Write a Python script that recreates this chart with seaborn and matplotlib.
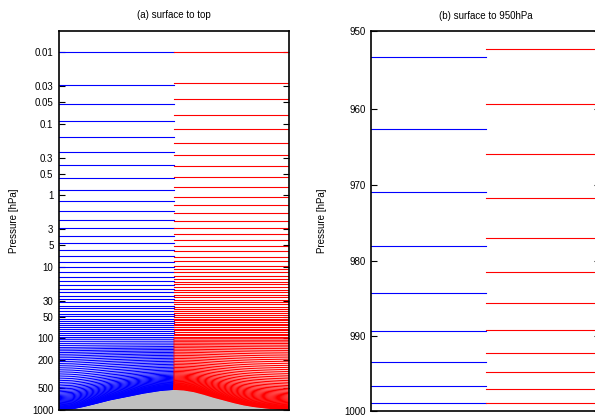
import numpy as np
import pandas as pd
import matplotlib
matplotlib.use("Agg")
import matplotlib.pyplot as plt
from matplotlib.ticker import NullLocator
import seaborn as sns

# ---------------- data (hPa, levels for a 1000 hPa surface) ----------------
blue_levels = [
    0.01, 0.0286, 0.0527, 0.091, 0.152, 0.249, 0.382, 0.581, 0.845, 1.19,
    1.65, 2.22, 2.90, 3.71, 4.70, 5.82, 7.13, 8.57, 10.2,
    11.8, 13.7, 15.8, 17.8, 20.2, 22.7, 25.6, 28.4, 31.3, 34.9, 38.0, 41.4,
    45.2, 49.1, 53.1, 57.1, 61.5, 65.6, 70.0, 74.6, 79.6, 84.9, 90.6, 96.6,
    103.0, 110.0,
    117.5, 125.3, 133.6, 141.1, 149.1, 157.6, 166.7, 176.5, 187.0, 198.3,
    210.5, 223.7, 237.9, 253.2, 269.6, 287.1, 305.7, 325.4, 346.1, 367.7,
    390.1, 413.1, 436.6, 460.4, 484.4, 508.4, 532.4, 556.2, 579.8, 603.1,
    626.1, 648.7, 670.9, 692.7, 714.0, 734.8, 755.0, 774.6, 793.6, 812.0,
    829.7, 846.7, 862.9, 878.3, 892.9, 906.7, 919.7, 931.8, 943.0,
    953.3, 962.6, 970.9, 978.0, 984.2, 989.3, 993.5, 996.7, 999.0,
]
red_levels = [
    0.01, 0.0271, 0.0458, 0.0752, 0.118, 0.185, 0.272, 0.395, 0.557, 0.776,
    1.05, 1.38, 1.79, 2.27, 2.84, 3.52, 4.26, 5.12, 6.08, 7.23, 8.38, 9.75,
    10.8, 11.9, 13.3, 14.7, 16.2, 17.6, 19.1, 20.9, 22.7, 24.8, 26.7, 28.8,
    31.0, 33.4, 36.1, 38.5, 41.0, 43.8, 46.7, 49.8, 53.1, 55.9, 59.0, 62.3,
    65.6, 69.3, 73.2, 77.1, 81.4, 86.0, 90.5, 95.6, 101.0, 106.3,
    111.9, 117.9, 124.4, 131.4, 139.0, 147.2, 156.1, 165.7, 176.1, 187.3,
    199.3, 212.2, 226.0, 240.7, 256.3, 272.8, 290.2, 308.5, 327.6, 347.5,
    368.1, 389.3, 411.0, 433.1, 455.5, 478.1, 500.8, 523.5, 546.2, 568.9,
    591.6, 614.3, 637.0, 659.6, 682.1, 704.4, 726.4, 748.0, 769.1, 789.6,
    809.4, 828.4, 846.0, 862.6, 878.0, 892.2, 905.2, 917.0, 927.6, 937.0,
    945.2,
    952.3, 959.4, 965.9, 971.7, 976.9, 981.5, 985.6, 989.1, 992.2, 994.8,
    997.1, 999.0,
]
terrain_x = [0.0, 0.057, 0.106, 0.149, 0.222, 0.294, 0.367, 0.439, 0.5,
             0.540, 0.584, 0.627, 0.670, 0.714, 0.758, 0.801, 0.845, 0.903,
             0.947, 1.0]
terrain_ps = [1000, 969, 899, 832, 725, 652, 584, 537, 517,
              526, 555, 604, 665, 725, 791, 851, 899, 946,
              972, 1000]

ticks_a = [0.01, 0.03, 0.05, 0.1, 0.3, 0.5, 1, 3, 5, 10, 30, 50, 100, 200, 500, 1000]
tick_labels_a = ["0.01", "0.03", "0.05", "0.1", "0.3", "0.5", "1", "3", "5",
                 "10", "30", "50", "100", "200", "500", "1000"]
ticks_b = [950, 960, 970, 980, 990, 1000]
tick_labels_b = ["950", "960", "970", "980", "990", "1000"]
titles = ["(a) surface to top", "(b) surface to 950hPa"]
ylabel = "Pressure [hPa]"

# hybrid-coordinate mapping (pure pressure above P_T)
P_REF, P_T, EXPO = 1000.0, 100.0, 1.5


def hybrid(levels):
    p = np.asarray(levels, float)
    b = np.clip((p - P_T) / (P_REF - P_T), 0.0, None) ** EXPO
    return p - b * P_REF, b


def level_frame(levels, xs, ps):
    a, b = hybrid(levels)
    xs = np.asarray(xs, float)
    ps = np.asarray(ps, float)
    parts = [pd.DataFrame({"x": xs, "p": a[k] + b[k] * ps, "level": k})
             for k in range(len(levels))]
    return pd.concat(parts, ignore_index=True)


tx = np.asarray(terrain_x, float)
tp = np.asarray(terrain_ps, float)
left = tx <= 0.5
right = tx >= 0.5

plt.rcParams["font.family"] = ["Liberation Sans", "DejaVu Sans"]
FS = 7

fig = plt.figure(figsize=(5.95, 4.17), dpi=100)
ax1 = fig.add_axes([59 / 595, 1 - 410 / 417, 230 / 595, 379 / 417])
ax2 = fig.add_axes([371 / 595, 1 - 410.7 / 417, 229 / 595, 379.7 / 417])

LW = 0.8
# panel (a)
df_b = level_frame(blue_levels, tx[left], tp[left])
df_r = level_frame(red_levels, tx[right], tp[right])
sns.lineplot(data=df_b, x="x", y="p", units="level", estimator=None,
             color="#0000ff", lw=LW, ax=ax1, legend=False)
sns.lineplot(data=df_r, x="x", y="p", units="level", estimator=None,
             color="#ff0000", lw=LW, ax=ax1, legend=False)
ax1.fill_between(tx, tp, 1000, color="#c0c0c0", lw=0, zorder=5)

# panel (b): flat surface of 1000 hPa
low_b = [v for v in blue_levels if v >= 940]
low_r = [v for v in red_levels if v >= 940]
df_b2 = level_frame(low_b, [0.0, 0.5], [P_REF, P_REF])
df_r2 = level_frame(low_r, [0.5, 1.0], [P_REF, P_REF])
sns.lineplot(data=df_b2, x="x", y="p", units="level", estimator=None,
             color="#0000ff", lw=LW, ax=ax2, legend=False)
sns.lineplot(data=df_r2, x="x", y="p", units="level", estimator=None,
             color="#ff0000", lw=LW, ax=ax2, legend=False)

for ax, lim, ticks, labels, title, lx in [
        (ax1, (1000, 0.0051), ticks_a, tick_labels_a, titles[0], -0.174),
        (ax2, (1000, 950), ticks_b, tick_labels_b, titles[1], -0.192)]:
    ax.set_yscale("log")
    ax.set_ylim(*lim)
    ax.set_xlim(0, 1)
    ax.set_yticks(ticks)
    ax.set_yticklabels(labels)
    ax.yaxis.set_minor_locator(NullLocator())
    ax.set_xticks([])
    ax.set_xlabel("")
    ax.tick_params(axis="y", which="both", direction="in", length=4,
                   width=0.8, left=True, right=True, labelsize=FS,
                   colors="black", pad=4)
    ax.set_ylabel(ylabel, fontsize=FS)
    ax.yaxis.set_label_coords(lx, 0.5)
    ax.set_title(title, fontsize=FS, pad=9)
    for s in ax.spines.values():
        s.set_linewidth(1.2)
        s.set_color("black")
        s.set_zorder(10)

fig.savefig("out.png", dpi=100)
